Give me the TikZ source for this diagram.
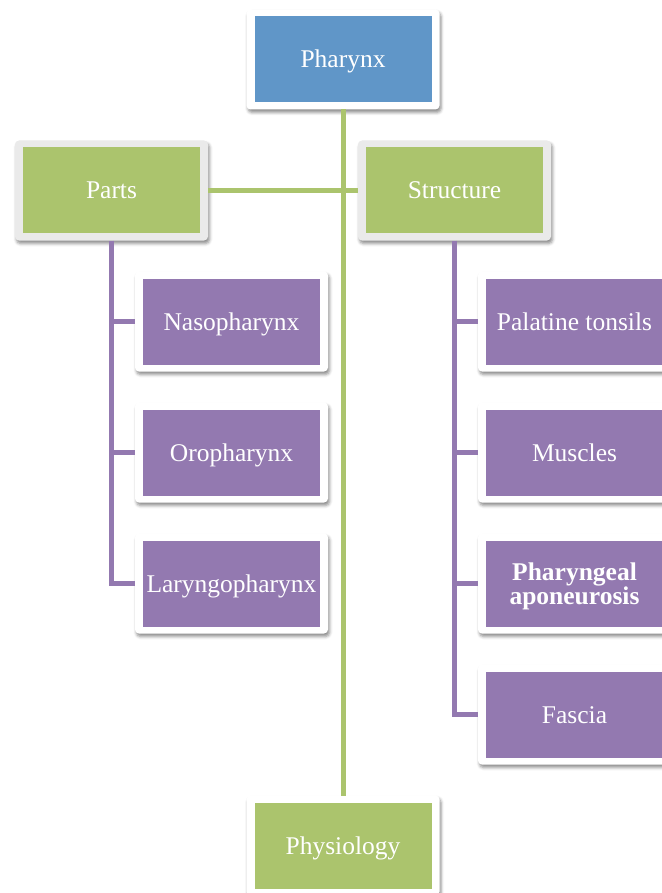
\documentclass[tikz,border=0pt]{standalone}
\usepackage{fontspec}
\setmainfont{Liberation Serif}
\usepackage{tikz}
\usetikzlibrary{positioning,shadows.blur}

\definecolor{topblue}{RGB}{96,150,200}
\definecolor{leafgreen}{RGB}{171,196,109}
\definecolor{lilac}{RGB}{147,121,176}
\definecolor{rim}{RGB}{234,234,234}

\begin{document}
\begin{tikzpicture}
      % Set up styles (one unit = one pixel of the page)
      [x=1pt, y=-1pt,
       box/.style={rectangle, fill=white, rounded corners=4pt,
         minimum width=193pt, minimum height=100pt, inner sep=0pt, outer sep=0pt,
         align=center, text=white, text height=17pt, text depth=0pt,
         font=\fontsize{25.5}{22}\selectfont,
         blur shadow={shadow xshift=1.5pt, shadow yshift=-3pt,
           shadow blur radius=3pt, shadow opacity=45},
         path picture={\fill[#1, sharp corners]
           ([shift={(8pt,7pt)}]path picture bounding box.south west) rectangle
           ([shift={(-8pt,-7pt)}]path picture bounding box.north east);}},
       headbox/.style={box=topblue},
       groupbox/.style={box=leafgreen, fill=rim},
       leafbox/.style={box=lilac},
       trunk/.style={leafgreen, line width=5pt},
       twig/.style={lilac, line width=5pt}]

      \useasboundingbox (0,0) rectangle (661,893);

      % Set up nodes
      \node[headbox] (pharynx) at (343,59.5) {Pharynx};
      \node[groupbox] (parts) at (111.5,190.5) {Parts};
      \node[groupbox] (structure) at (454.5,190.5) {Structure};
      \node[box=leafgreen] (physiology) at (343,845.5) {Physiology};

      \node[leafbox] (naso) at (231.5,321.5) {Nasopharynx};
      \node[leafbox] (oro) at (231.5,452.5) {Oropharynx};
      \node[leafbox] (laryngo) at (231.5,583.5) {Laryngopharynx};

      \node[leafbox] (tonsils) at (574.5,321.5) {Palatine tonsils};
      \node[leafbox] (muscles) at (574.5,452.5) {Muscles};
      \node[leafbox, text height=42pt] (aponeurosis) at (574.5,583.5)
        {\textbf{Pharyngeal}\\\textbf{aponeurosis}};
      \node[leafbox] (fascia) at (574.5,714.5) {Fascia};

      % Draw connectors
      \draw[trunk] (pharynx.south) -- (physiology.north);
      \draw[trunk] (parts.east) -- (structure.west);

      \draw[twig] (parts.south) |- (laryngo.west);
      \draw[twig] (parts.south |- naso.west) -- (naso.west);
      \draw[twig] (parts.south |- oro.west) -- (oro.west);

      \draw[twig] (structure.south) |- (fascia.west);
      \draw[twig] (structure.south |- tonsils.west) -- (tonsils.west);
      \draw[twig] (structure.south |- muscles.west) -- (muscles.west);
      \draw[twig] (structure.south |- aponeurosis.west) -- (aponeurosis.west);

    \end{tikzpicture}
\end{document}
